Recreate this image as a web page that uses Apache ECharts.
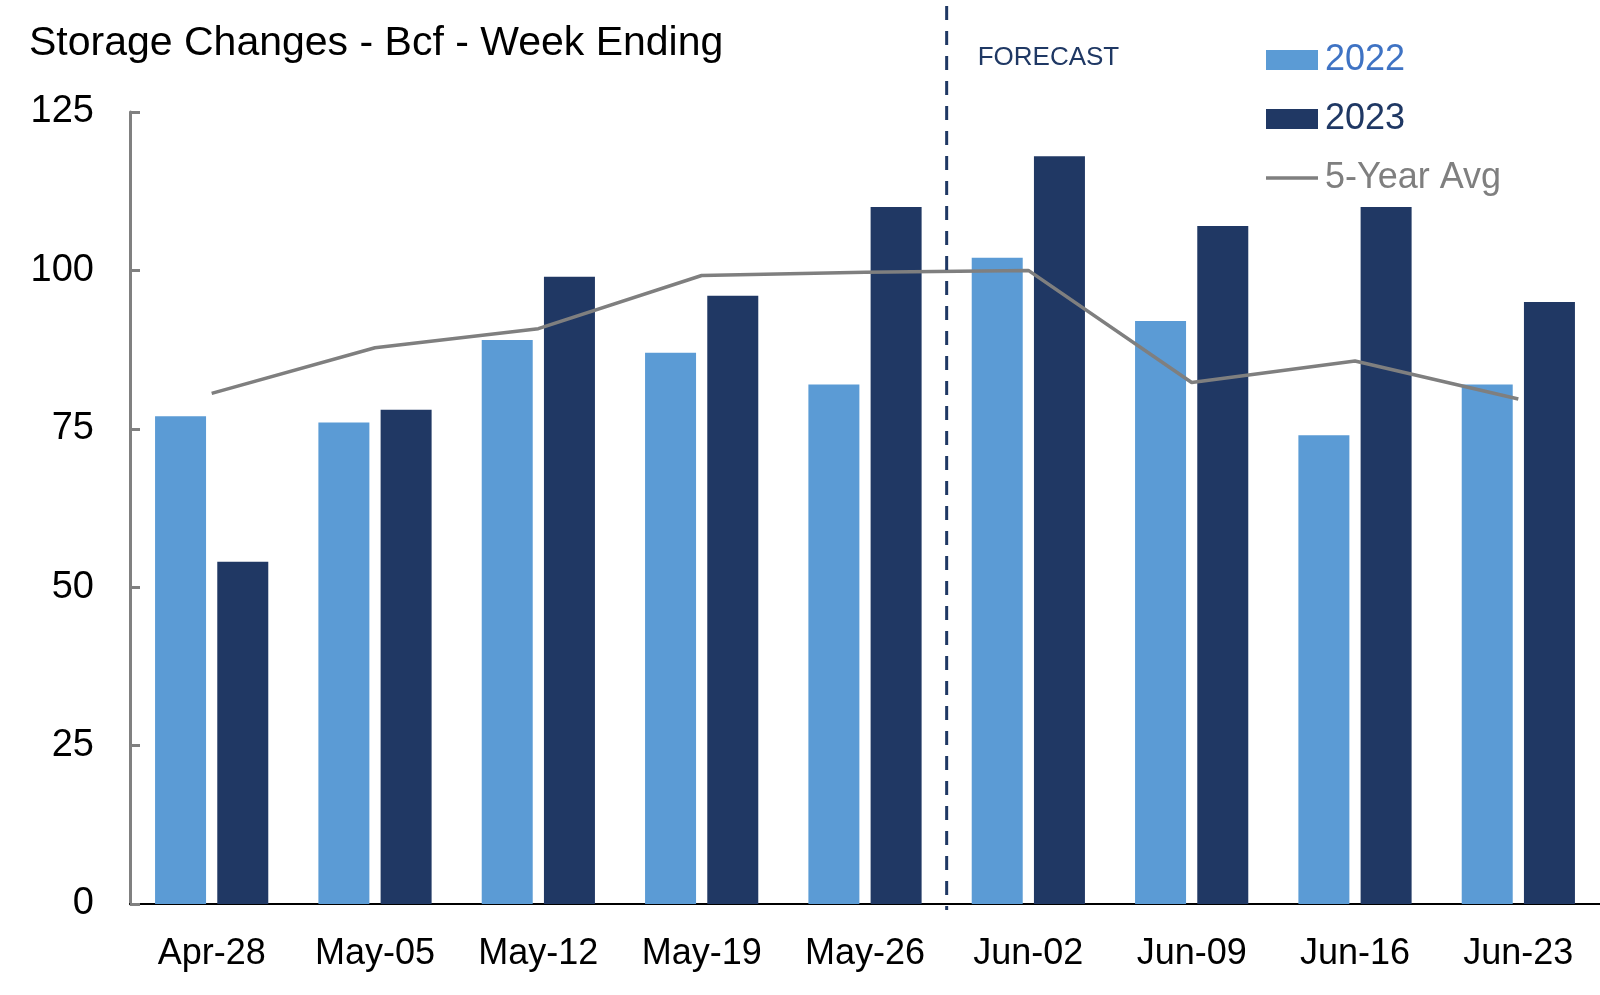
<!DOCTYPE html>
<html>
<head>
<meta charset="utf-8">
<script src="https://cdn.jsdelivr.net/npm/echarts@6/dist/echarts.min.js"></script>
<style>
html,body{margin:0;padding:0;background:#fff;}
#chart{width:1600px;height:995px;}
</style>
</head>
<body>
<div id="chart"></div>
<script>
const categories = ['Apr-28','May-05','May-12','May-19','May-26','Jun-02','Jun-09','Jun-16','Jun-23'];
const values2022 = [77, 76, 89, 87, 82, 102, 92, 74, 82];
const values2023 = [54, 78, 99, 96, 110, 118, 107, 110, 95];
const avg5yr = [80.6, 87.8, 90.8, 99.2, 99.7, 100.0, 82.3, 85.7, 79.7];
const yTicks = [0, 25, 50, 75, 100, 125];
const forecastStart = 'Jun-02';

const FONT = '"Liberation Sans", Arial, sans-serif';
const chart = echarts.init(document.getElementById('chart'), null, {renderer: 'canvas'});

const option = {
  backgroundColor: '#ffffff',
  animation: false,
  title: {
    text: 'Storage Changes - Bcf - Week Ending',
    left: 24, top: 18,
    textStyle: {fontFamily: FONT, fontSize: 41, fontWeight: 'normal', color: '#000'}
  },
  legend: {
    orient: 'vertical',
    left: 1261, top: 35,
    itemWidth: 52, itemHeight: 20,
    itemGap: 19,
    textStyle: {fontFamily: FONT, fontSize: 36, lineHeight: 40, padding: [0,0,0,2]},
    data: [
      {name: '2022', icon: 'rect', textStyle: {color: '#3F73C4'}},
      {name: '2023', icon: 'rect', textStyle: {color: '#1F3864'}},
      {name: '5-Year Avg', icon: 'path://M0,0 L56,0 L56,4 L0,4 Z', textStyle: {color: '#7F7F7F'}}
    ]
  },
  grid: {left: 130, right: 0, top: 112, bottom: 91, containLabel: false},
  xAxis: {
    type: 'category',
    data: categories,
    axisLine: {lineStyle: {color: '#000', width: 2}},
    axisTick: {show: false},
    axisLabel: {fontFamily: FONT, fontSize: 36, color: '#000', margin: 32}
  },
  yAxis: {
    type: 'value',
    min: 0, max: 125, interval: 25,
    axisLine: {show: true, lineStyle: {color: '#808080', width: 3}},
    axisTick: {show: true, inside: true, length: 10, lineStyle: {color: '#808080', width: 3}},
    splitLine: {show: false},
    axisLabel: {fontFamily: FONT, fontSize: 38, color: '#000', margin: 36,
      formatter: v => yTicks.includes(v) ? String(v) : ''}
  },
  series: [
    {name: '2022', type: 'bar', data: values2022, barWidth: 51, barGap: '22%',
     itemStyle: {color: '#5B9BD5'}},
    {name: '2023', type: 'bar', data: values2023, barWidth: 51, barGap: '22%',
     itemStyle: {color: '#203864'}},
    {name: '5-Year Avg', type: 'line', data: avg5yr, symbol: 'none',
     lineStyle: {color: '#7F7F7F', width: 3.5}, itemStyle: {color: '#7F7F7F'}, z: 5}
  ]
};
chart.setOption(option);

// forecast divider: midway between last historical and first forecast category
const i = categories.indexOf(forecastStart);
const xa = chart.convertToPixel({xAxisIndex: 0}, categories[i - 1]);
const xb = chart.convertToPixel({xAxisIndex: 0}, categories[i]);
const xDiv = (xa + xb) / 2;
const yBase = chart.convertToPixel({yAxisIndex: 0}, 0);
chart.setOption({
  graphic: [
    {type: 'line', shape: {x1: xDiv, y1: 6, x2: xDiv, y2: yBase + 6},
     style: {stroke: '#1F3864', lineWidth: 3, lineDash: [14, 11]}, z: 10},
    {type: 'text', left: xDiv + 31, top: 45,
     style: {text: 'FORECAST', fill: '#1F3864', font: '26px ' + FONT}}
  ]
});
</script>
</body>
</html>
